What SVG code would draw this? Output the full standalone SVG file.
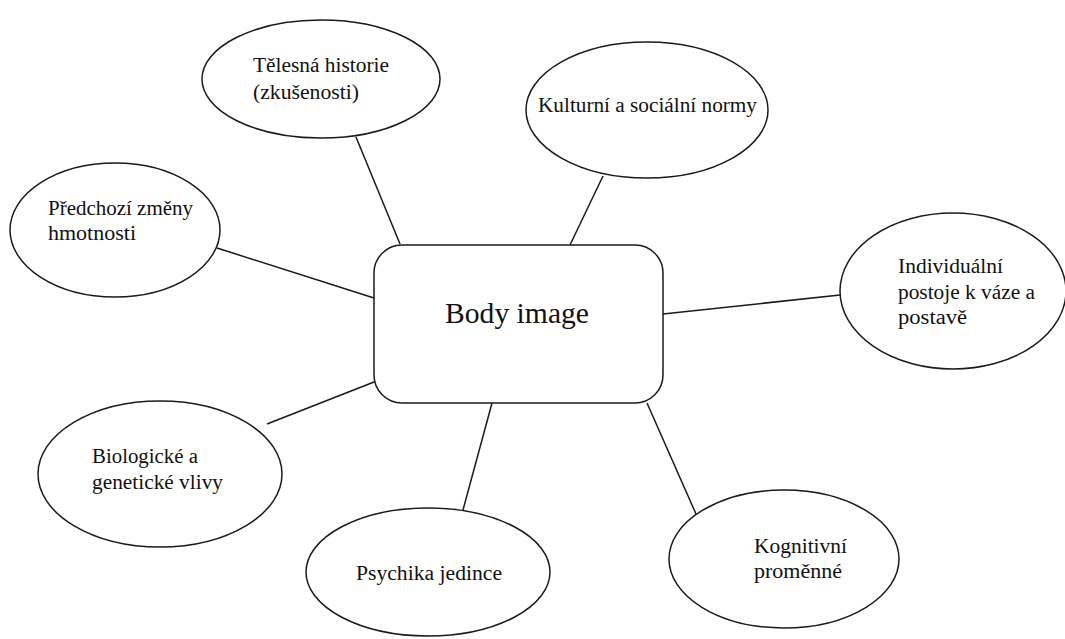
<svg xmlns="http://www.w3.org/2000/svg" width="1065" height="639" viewBox="0 0 1065 639">
<style>
.shape{fill:#fff;stroke:#1a1a1a;stroke-width:1.5}
.conn line{stroke:#1a1a1a;stroke-width:1.5}
text{font-family:"Liberation Serif","Times New Roman",serif;font-size:20px;fill:#111}
.big{font-size:30px}
</style>
<rect width="1065" height="639" fill="#fff"/>
<g class="conn" id="connectors">
<line x1="356" y1="137" x2="400" y2="244"/>
<line x1="603" y1="176" x2="570" y2="245"/>
<line x1="217" y1="248" x2="374" y2="298"/>
<line x1="663" y1="314" x2="840" y2="295"/>
<line x1="267" y1="424" x2="374" y2="382"/>
<line x1="492" y1="403" x2="463" y2="510"/>
<line x1="647" y1="403" x2="696" y2="514"/>
</g>
<g id="body-image">
<rect class="shape" x="374" y="245" width="289" height="158" rx="28"/>
<text class="big" x="445" y="323" textLength="144" lengthAdjust="spacingAndGlyphs">Body image</text>
</g>
<g id="telesna-historie">
<ellipse class="shape" cx="321" cy="79" rx="119" ry="59"/>
<text x="253" y="72" textLength="136" lengthAdjust="spacingAndGlyphs">Tělesná historie</text>
<text x="253" y="99" textLength="106" lengthAdjust="spacingAndGlyphs">(zkušenosti)</text>
</g>
<g id="kulturni-normy">
<ellipse class="shape" cx="647" cy="110" rx="121" ry="68"/>
<text x="538" y="112" textLength="219" lengthAdjust="spacingAndGlyphs">Kulturní a sociální normy</text>
</g>
<g id="predchozi-zmeny">
<ellipse class="shape" cx="115" cy="230" rx="105" ry="67"/>
<text x="48" y="215" textLength="145" lengthAdjust="spacingAndGlyphs">Předchozí změny</text>
<text x="48" y="240" textLength="88" lengthAdjust="spacingAndGlyphs">hmotnosti</text>
</g>
<g id="individualni-postoje">
<ellipse class="shape" cx="953" cy="291" rx="113" ry="78"/>
<text x="898" y="273" textLength="105" lengthAdjust="spacingAndGlyphs">Individuální</text>
<text x="898" y="299" textLength="137" lengthAdjust="spacingAndGlyphs">postoje k váze a</text>
<text x="898" y="324" textLength="69" lengthAdjust="spacingAndGlyphs">postavě</text>
</g>
<g id="biologicke-vlivy">
<ellipse class="shape" cx="160" cy="474" rx="122" ry="73"/>
<text x="92" y="463" textLength="106" lengthAdjust="spacingAndGlyphs">Biologické a</text>
<text x="92" y="489" textLength="131" lengthAdjust="spacingAndGlyphs">genetické vlivy</text>
</g>
<g id="psychika-jedince">
<ellipse class="shape" cx="428" cy="572" rx="122" ry="64"/>
<text x="356" y="580" textLength="146" lengthAdjust="spacingAndGlyphs">Psychika jedince</text>
</g>
<g id="kognitivni-promenne">
<ellipse class="shape" cx="784" cy="559" rx="115" ry="69"/>
<text x="754" y="553" textLength="93" lengthAdjust="spacingAndGlyphs">Kognitivní</text>
<text x="754" y="578" textLength="88" lengthAdjust="spacingAndGlyphs">proměnné</text>
</g>
</svg>
